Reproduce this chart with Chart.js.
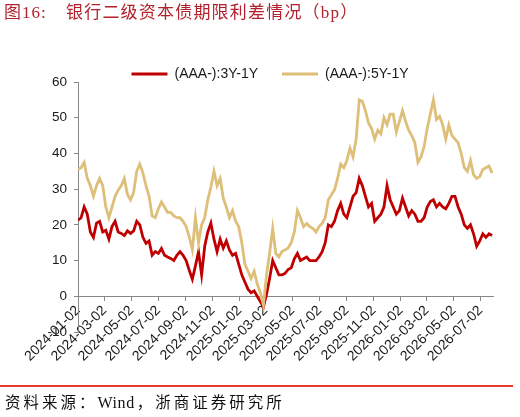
<!DOCTYPE html>
<html><head><meta charset="utf-8">
<script src="https://cdn.jsdelivr.net/npm/chart.js@4.4.1/dist/chart.umd.min.js"></script>
<style>
html,body{margin:0;padding:0;background:#fff;}
#wrap{position:relative;width:520px;height:417px;overflow:hidden;background:#fff;}
canvas{position:absolute;left:0;top:0;}
.t{position:absolute;top:1px;line-height:24px;font-size:17px;color:#B3212C;white-space:nowrap;font-family:"Liberation Serif","Noto Sans CJK SC",serif;}
#rule{position:absolute;left:0;top:385px;width:513px;height:2px;background:#E8392F;}
#src{position:absolute;left:5px;top:393px;line-height:20px;font-size:15.5px;letter-spacing:3px;color:#111;white-space:nowrap;font-family:"Liberation Serif","Noto Sans CJK SC",serif;}
#src .w{letter-spacing:0.6px;font-size:16px;margin-right:2px;}
</style></head>
<body><div id="wrap">
<canvas id="c" width="520" height="417"></canvas>
<div class="t" style="left:4px;letter-spacing:1px">图16:</div>
<div class="t" style="left:66px;letter-spacing:1.2px">银行二级资本债期限利差情况（bp）</div>
<div id="rule"></div>
<div id="src">资料来源：<span class="w">Wind</span>，浙商证券研究所</div>
</div>
<script>
const dates = [
'2024-01-02','2024-01-09','2024-01-16','2024-01-23','2024-01-30',
'2024-02-06','2024-02-13','2024-02-20','2024-02-27',
'2024-03-05','2024-03-12','2024-03-19','2024-03-26',
'2024-04-02','2024-04-09','2024-04-16','2024-04-23','2024-04-30',
'2024-05-07','2024-05-14','2024-05-21','2024-05-28',
'2024-06-04','2024-06-11','2024-06-18','2024-06-25',
'2024-07-02','2024-07-09','2024-07-16','2024-07-23','2024-07-30',
'2024-08-06','2024-08-13','2024-08-20','2024-08-27',
'2024-09-03','2024-09-10','2024-09-17','2024-09-24',
'2024-10-01','2024-10-08','2024-10-15','2024-10-22','2024-10-29',
'2024-11-05','2024-11-12','2024-11-19','2024-11-26',
'2024-12-03','2024-12-10','2024-12-17','2024-12-24','2024-12-31',
'2025-01-07','2025-01-14','2025-01-21','2025-01-28',
'2025-02-04','2025-02-11','2025-02-18','2025-02-25',
'2025-03-04','2025-03-11','2025-03-18','2025-03-25',
'2025-04-01','2025-04-08','2025-04-15','2025-04-22','2025-04-29',
'2025-05-06','2025-05-13','2025-05-20','2025-05-27',
'2025-06-03','2025-06-10','2025-06-17','2025-06-24',
'2025-07-01','2025-07-08','2025-07-15','2025-07-22','2025-07-29',
'2025-08-05','2025-08-12','2025-08-19','2025-08-26',
'2025-09-02','2025-09-09','2025-09-16','2025-09-23','2025-09-30',
'2025-10-07','2025-10-14','2025-10-21','2025-10-28',
'2025-11-04','2025-11-11','2025-11-18','2025-11-25',
'2025-12-02','2025-12-09','2025-12-16','2025-12-23','2025-12-30',
'2026-01-06','2026-01-13','2026-01-20','2026-01-27',
'2026-02-03','2026-02-10','2026-02-17','2026-02-24',
'2026-03-03','2026-03-10','2026-03-17','2026-03-24','2026-03-31',
'2026-04-07','2026-04-14','2026-04-21','2026-04-28',
'2026-05-05','2026-05-12','2026-05-19','2026-05-26',
'2026-06-02','2026-06-09','2026-06-16','2026-06-23','2026-06-30',
'2026-07-07','2026-07-14','2026-07-21','2026-07-28'
];

const spread3Y = [
21.3, 22, 25, 23, 18, 16.5, 20.5, 21, 18, 18.5,
16, 19.5, 21, 18, 17.6, 17, 18.3, 17.6, 18.3, 21,
20, 16.5, 14.8, 15.5, 11.5, 12.5, 12, 13.4, 11.5, 11,
10.6, 10, 11.5, 12.5, 11.5, 10, 7.3, 4.8, 8.5, 12.5,
6, 14, 18, 20.5, 16, 12.5, 16, 13.5, 15.5, 13,
11.5, 12, 9, 6, 4, 2, 1, 1.5, 0, -1.5,
-3, 0.5, 5, 10, 8, 6, 6, 6.4, 7.5, 8,
10.5, 12, 10, 10.5, 11, 10, 10, 10, 11, 12.5,
15, 20, 19.5, 21, 24, 26, 23, 22, 25, 28,
29, 33, 31, 28, 25, 26, 21, 22, 23, 25,
31, 27, 25, 23, 24, 27.5, 25, 22.5, 24, 23,
21, 21, 22, 25, 26.5, 27, 25, 26, 25, 24.5,
26, 28, 28, 25, 23, 20, 19, 20, 17.5, 14,
15.5, 17.5, 16.5, 17.5, 17
];

const spread5Y = [
35.5, 36, 37.5, 33, 31, 28, 31, 33, 31, 25,
22, 25, 28, 29.7, 31, 33, 28.5, 27, 29, 35,
37, 34.5, 31, 28, 22.5, 22, 24.5, 26.4, 25, 23.5,
23.5, 22.5, 22, 22, 21, 19.5, 16.6, 13, 22, 15,
20, 22, 27, 30.6, 35, 31, 33, 27.5, 25, 22,
24, 21, 19.5, 15, 9, 7, 5, 7, 3.5, 1,
-2.5, 6, 12, 19, 12, 11, 12.5, 13, 13.5, 15,
18, 24, 22, 19.5, 20.4, 19.5, 19, 18, 19.5, 20.4,
22, 27, 28.4, 29.8, 33, 37, 36, 38, 41.5, 39,
44, 55, 54.6, 52, 48.5, 47, 44, 46.5, 45.5, 50,
48, 51, 51, 46, 49, 52, 49, 46.5, 45, 43,
37.5, 39, 42, 47, 51, 55, 49.5, 50.4, 48, 44,
48, 45, 44, 43, 40, 36, 35, 38, 34, 33,
33.5, 35.5, 36, 36.5, 34.5
];

const xTickLabels = ['2024-01-02','2024-03-02','2024-05-02','2024-07-02','2024-09-02','2024-11-02',
  '2025-01-02','2025-03-02','2025-05-02','2025-07-02','2025-09-02','2025-11-02',
  '2026-01-02','2026-03-02','2026-05-02','2026-07-02'];
const yMin = -10, yMax = 60, yStep = 10;
const seriesNames = ['(AAA-):3Y-1Y', '(AAA-):5Y-1Y'];

const START = Date.UTC(2024, 0, 2);
function dayOf(s) {
  const p = s.split('-').map(Number);
  return (Date.UTC(p[0], p[1] - 1, p[2]) - START) / 86400000;
}
const tickDays = xTickLabels.map(dayOf);
const xMax = dayOf('2026-07-30');

const RED = '#C00000', GOLD = '#DEBF79';
const LEGEND_PAD = 24, LEGEND_TOP = 43, LEGEND_H = 39;

const legendFit = {
  id: 'legendFit',
  beforeLayout(chart) {
    const lg = chart.legend;
    if (lg && !lg.__patched) {
      const orig = lg.fit;
      lg.fit = function () { orig.call(this); this.height = LEGEND_H; };
      lg.__patched = true;
    }
  }
};

new Chart(document.getElementById('c'), {
  type: 'line',
  data: {
    datasets: [
      { label: seriesNames[1], data: dates.map((d, i) => ({ x: dayOf(d), y: spread5Y[i] })),
        borderColor: GOLD, backgroundColor: GOLD, borderWidth: 2.8, pointRadius: 0, tension: 0 },
      { label: seriesNames[0], data: dates.map((d, i) => ({ x: dayOf(d), y: spread3Y[i] })),
        borderColor: RED, backgroundColor: RED, borderWidth: 2.8, pointRadius: 0, tension: 0 }
    ]
  },
  options: {
    responsive: false, animation: false, devicePixelRatio: 1,
    layout: { padding: { left: 47, right: 27, top: LEGEND_TOP, bottom: 85 } },
    plugins: {
      tooltip: { enabled: false },
      legend: {
        reverse: true,
        labels: {
          boxWidth: 36, boxHeight: 3, padding: LEGEND_PAD, color: '#1a1a1a',
          font: { size: 14, family: '"Liberation Sans", Arial, sans-serif' },
          generateLabels: (chart) => Chart.defaults.plugins.legend.labels.generateLabels(chart)
            .map(l => Object.assign({}, l, { lineWidth: 0 }))
        }
      }
    },
    scales: {
      x: {
        type: 'linear', min: 0, max: xMax, position: { y: 0 },
        afterBuildTicks: (s) => { s.ticks = tickDays.map(v => ({ value: v })); },
        afterFit: (s) => { s.height = 0; },
        ticks: {
          autoSkip: false, minRotation: 45, maxRotation: 45, padding: 2, color: '#1a1a1a',
          font: { size: 14, family: '"Liberation Sans", Arial, sans-serif' },
          callback: (v, i) => xTickLabels[i]
        },
        grid: { display: true, drawOnChartArea: false, drawTicks: true, tickLength: 4, color: '#888' },
        border: { display: true, color: '#888', width: 1 }
      },
      y: {
        min: yMin, max: yMax,
        afterFit: (s) => { s.width = 31; },
        ticks: { stepSize: yStep, padding: 7, color: '#1a1a1a',
          font: { size: 13.5, family: '"Liberation Sans", Arial, sans-serif' } },
        grid: { display: true, drawOnChartArea: false, drawTicks: true, tickLength: 4, color: '#888' },
        border: { display: true, color: '#888', width: 1 }
      }
    }
  },
  plugins: [legendFit]
});
</script>
</body></html>
